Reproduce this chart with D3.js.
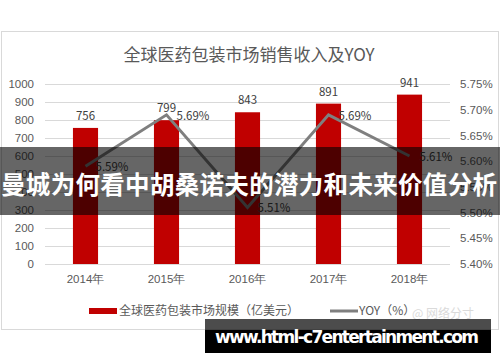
<!DOCTYPE html>
<html>
<head>
<meta charset="utf-8">
<script src="https://cdn.jsdelivr.net/npm/d3@7"></script>
<style>
  body { margin: 0; background: #fff; }
  svg { display: block; font-family: "Noto Sans CJK SC", "Noto Sans", sans-serif; }
</style>
</head>
<body>
<div id="chart"></div>
<script>
// chart data
var years = ["2014年", "2015年", "2016年", "2017年", "2018年"];
var revenue = [756, 799, 843, 891, 941];
var yoy = [5.59, 5.69, 5.51, 5.69, 5.61];
var leftTicks = [0, 100, 200, 300, 400, 500, 600, 700, 800, 900, 1000];
var rightTicks = [5.40, 5.45, 5.50, 5.55, 5.60, 5.65, 5.70, 5.75];

var width = 500, height = 362;
var plot = { left: 45, right: 450, top: 84, bottom: 264 };

var svg = d3.select("#chart").append("svg")
    .attr("width", width)
    .attr("height", height);

// outer frame
svg.append("rect")
    .attr("x", 1.5).attr("y", 31.5)
    .attr("width", 497).attr("height", 298)
    .attr("fill", "#fff")
    .attr("stroke", "#d9d9d9");

svg.append("text")
    .attr("x", 249).attr("y", 61)
    .attr("text-anchor", "middle")
    .attr("font-size", "17px")
    .attr("fill", "#595959")
    .text("全球医药包装市场销售收入及YOY");

var x = d3.scaleBand()
    .domain(years)
    .range([plot.left, plot.right])
    .paddingInner(0.69)
    .paddingOuter(0.345);

var y = d3.scaleLinear().domain([0, 1000]).range([plot.bottom, plot.top]);
var y2 = d3.scaleLinear().domain([5.40, 5.75]).range([plot.bottom, plot.top]);

// gridlines
svg.append("g")
    .selectAll("line")
    .data(leftTicks)
    .enter().append("line")
    .attr("x1", plot.left).attr("x2", plot.right)
    .attr("y1", function(d) { return Math.round(y(d)) + 0.5; })
    .attr("y2", function(d) { return Math.round(y(d)) + 0.5; })
    .attr("stroke", "#d9d9d9");

// left axis
var gl = svg.append("g")
    .attr("transform", "translate(" + (plot.left - 8) + ",0)")
    .call(d3.axisLeft(y).tickValues(leftTicks).tickSize(0).tickPadding(3)
        .tickFormat(d3.format("d")));
gl.select(".domain").remove();
gl.selectAll("text").attr("font-size", "11.5px").attr("fill", "#595959");

// right axis
var gr = svg.append("g")
    .attr("transform", "translate(" + (plot.right + 7) + ",0)")
    .call(d3.axisRight(y2).tickValues(rightTicks).tickSize(0).tickPadding(3)
        .tickFormat(function(d) { return d.toFixed(2) + "%"; }));
gr.select(".domain").remove();
gr.selectAll("text").attr("font-size", "11.5px").attr("fill", "#595959");

// bottom axis
var gb = svg.append("g")
    .attr("transform", "translate(0," + plot.bottom + ")")
    .call(d3.axisBottom(x).tickSize(0).tickPadding(11));
gb.select(".domain").remove();
gb.selectAll("text").attr("font-size", "11.5px").attr("fill", "#595959");

// bars
svg.selectAll(".bar")
    .data(revenue)
    .enter().append("rect")
    .attr("class", "bar")
    .attr("x", function(d, i) { return x(years[i]); })
    .attr("y", function(d) { return y(d); })
    .attr("width", x.bandwidth())
    .attr("height", function(d) { return plot.bottom - y(d); })
    .attr("fill", "#c00000");

svg.selectAll(".barlabel")
    .data(revenue)
    .enter().append("text")
    .attr("class", "barlabel")
    .attr("x", function(d, i) { return x(years[i]) + x.bandwidth() / 2; })
    .attr("y", function(d) { return y(d) - 8; })
    .attr("text-anchor", "middle")
    .attr("font-size", "11.5px")
    .attr("fill", "#404040")
    .text(function(d) { return d; });

// yoy line
var cx = function(i) { return x(years[i]) + x.bandwidth() / 2; };
var line = d3.line()
    .x(function(d, i) { return cx(i); })
    .y(function(d) { return y2(d); });

svg.append("path")
    .datum(yoy)
    .attr("d", line)
    .attr("fill", "none")
    .attr("stroke", "#7f7f7f")
    .attr("stroke-width", 3);

svg.selectAll(".yoylabel")
    .data(yoy)
    .enter().append("text")
    .attr("class", "yoylabel")
    .attr("x", function(d, i) { return cx(i) + 10; })
    .attr("y", function(d) { return y2(d) + 5; })
    .attr("font-size", "11.5px")
    .attr("fill", "#404040")
    .text(function(d) { return d.toFixed(2) + "%"; });

// legend
svg.append("rect")
    .attr("x", 89).attr("y", 308)
    .attr("width", 28).attr("height", 6)
    .attr("fill", "#c00000");
svg.append("text")
    .attr("x", 119).attr("y", 315)
    .attr("font-size", "12px")
    .attr("fill", "#595959")
    .text("全球医药包装市场规模（亿美元）");
svg.append("line")
    .attr("x1", 330).attr("x2", 358)
    .attr("y1", 311).attr("y2", 311)
    .attr("stroke", "#7f7f7f")
    .attr("stroke-width", 3);
svg.append("text")
    .attr("x", 359).attr("y", 315)
    .attr("font-size", "12px")
    .attr("fill", "#595959")
    .text("YOY（%）");

// faint watermark
svg.append("text")
    .attr("x", 412).attr("y", 318)
    .attr("font-size", "12px")
    .attr("fill", "#dadada")
    .text("@ 网络分寸");

// headline overlay band
svg.append("rect")
    .attr("x", 0).attr("y", 147)
    .attr("width", width).attr("height", 68)
    .attr("fill", "rgba(0,0,0,0.6)");
svg.append("text")
    .attr("x", 249).attr("y", 194)
    .attr("text-anchor", "middle")
    .attr("font-size", "24.5px")
    .attr("font-weight", "bold")
    .attr("fill", "#fff")
    .attr("textLength", 496)
    .text("曼城为何看中胡桑诺夫的潜力和未来价值分析");

// site box
svg.append("rect")
    .attr("x", 205).attr("y", 319)
    .attr("width", 286).attr("height", 11)
    .attr("fill", "rgba(0,0,0,0.7)");
svg.append("rect")
    .attr("x", 205).attr("y", 330)
    .attr("width", 286).attr("height", 23)
    .attr("fill", "#000");
svg.append("text")
    .attr("x", 215).attr("y", 343)
    .attr("font-family", "DejaVu Sans")
    .attr("font-size", "17px")
    .attr("font-weight", "bold")
    .attr("fill", "#fff")
    .attr("textLength", 264)
    .text("www.html-c7entertainment.com");
</script>
</body>
</html>
